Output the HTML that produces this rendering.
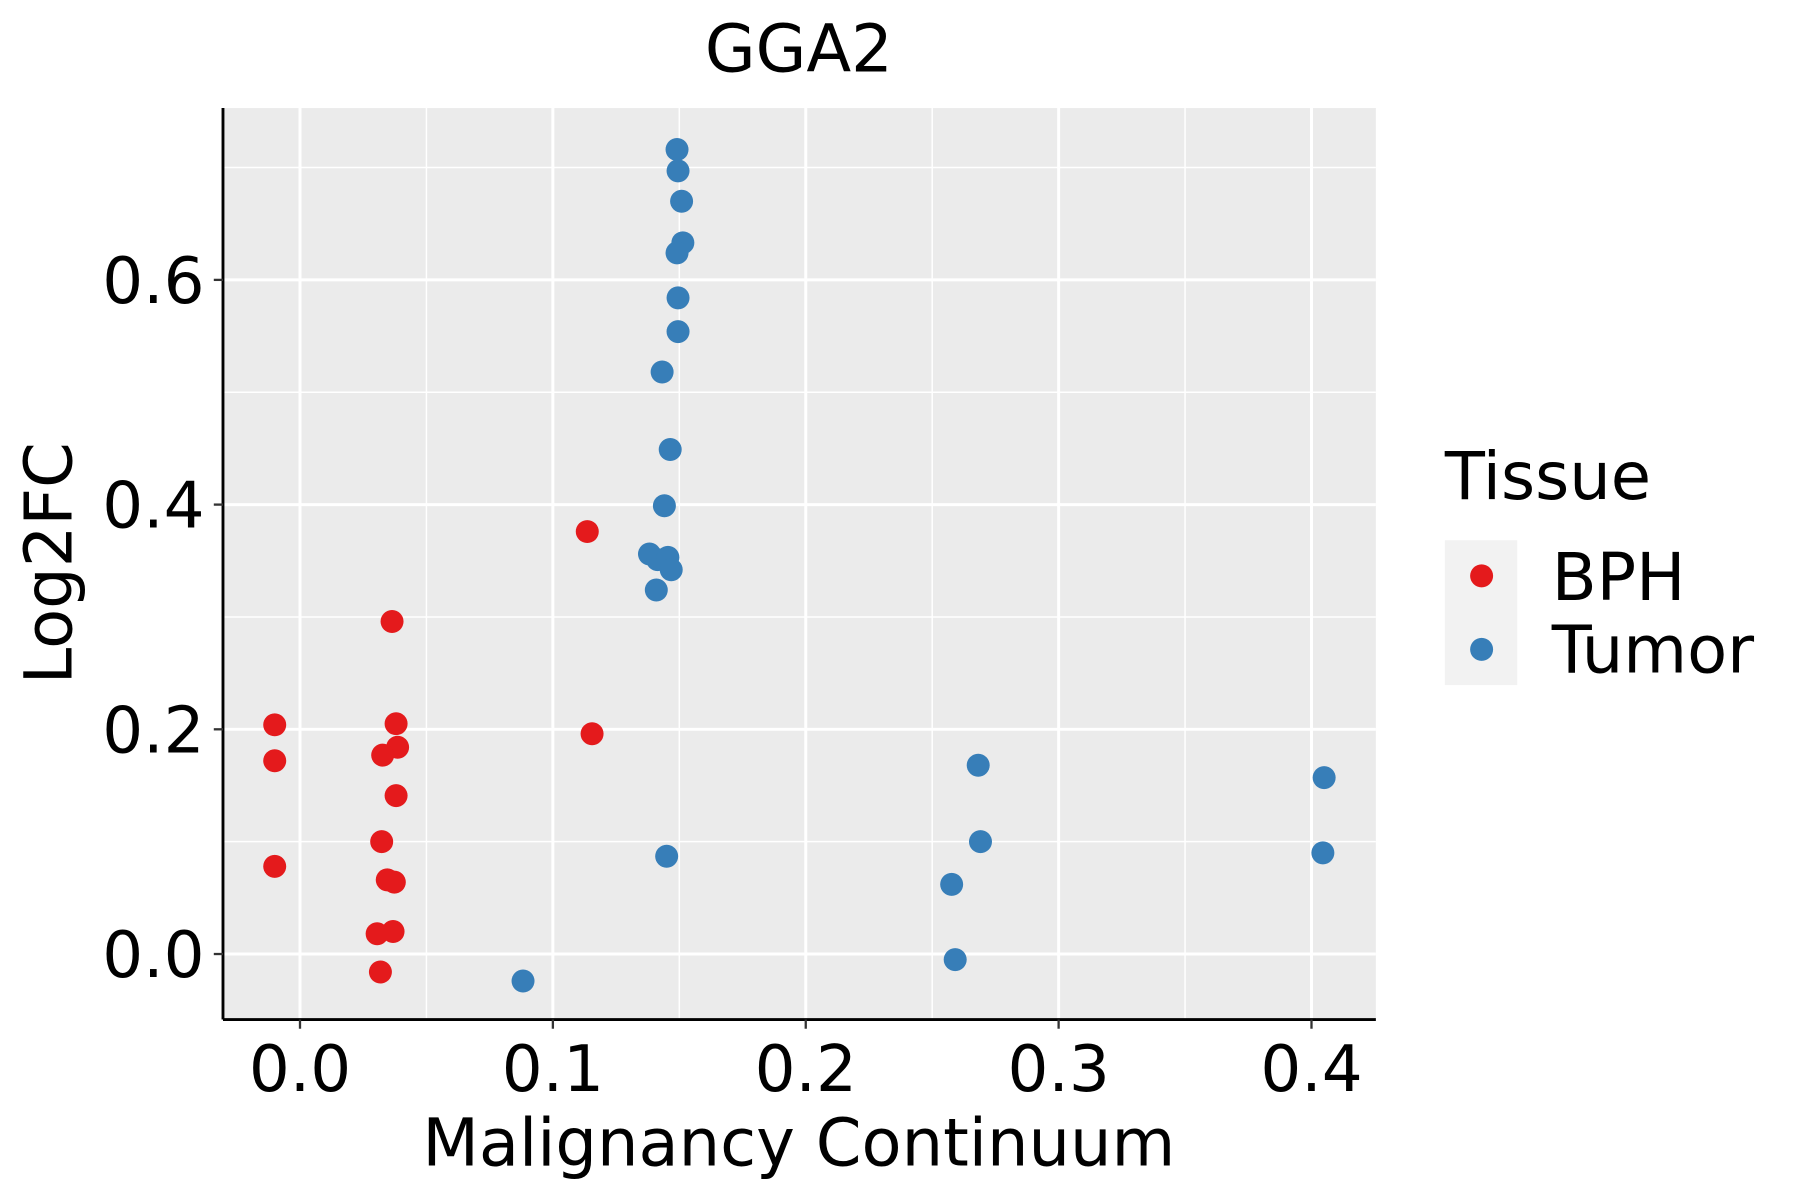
<!DOCTYPE html>
<html><head><meta charset="utf-8"><style>html,body{margin:0;padding:0;background:#fff}svg{display:block}text{font-family:"DejaVu Sans","Liberation Sans",sans-serif}</style></head>
<body>
<svg id="chart" width="1800" height="1200" viewBox="0 0 1566 1044" preserveAspectRatio="none" xmlns="http://www.w3.org/2000/svg">
<rect width="1566" height="1044" fill="#fff"/>
<text x="695" y="62" font-size="57" text-anchor="middle" fill="#000">GGA2</text>
<rect x="194" y="94" width="1003" height="793" fill="#ebebeb"/>
<g id="grid"></g>
<g id="pts"></g>
<line x1="194" y1="887" x2="1197" y2="887" stroke="#000" stroke-width="2.5"/>
<line x1="194" y1="94" x2="194" y2="887" stroke="#000" stroke-width="2.5"/>
<g id="ticks"></g>
<text x="695" y="1014" font-size="57" text-anchor="middle" fill="#000">Malignancy Continuum</text>
<text transform="translate(62,490) rotate(-90)" font-size="57" text-anchor="middle" fill="#000">Log2FC</text>
<g>
<text x="1257" y="434" font-size="57" fill="#000">Tissue</text>
<rect x="1257" y="470" width="63" height="126" fill="#f2f2f2"/>
<circle cx="1289" cy="501" r="10" fill="#e41a1c"/>
<circle cx="1289" cy="565" r="10" fill="#377eb8"/>
<text x="1350" y="522" font-size="57" fill="#000">BPH</text>
<text x="1350" y="585" font-size="57" fill="#000">Tumor</text>
</g>
</svg>
<script>
const xTicks=[0,0.1,0.2,0.3,0.4];
const xTickLabels=["0.0","0.1","0.2","0.3","0.4"];
const yTicks=[0,0.2,0.4,0.6];
const yTickLabels=["0.0","0.2","0.4","0.6"];
const bphX=[-0.010,-0.010,-0.010,0.0364,0.0380,0.0386,0.0327,0.0380,0.0323,0.0345,0.0373,0.0305,0.0368,0.0318,0.1136,0.1155];
const bphY=[0.204,0.172,0.078,0.296,0.205,0.184,0.177,0.141,0.100,0.066,0.064,0.018,0.020,-0.016,0.376,0.196];
const tumorX=[0.1491,0.1495,0.1509,0.1514,0.1491,0.1495,0.1495,0.1432,0.1464,0.1441,0.1382,0.1414,0.1455,0.1468,0.1409,0.1450,0.0882,0.2682,0.2691,0.2577,0.2591,0.4050,0.4045];
const tumorY=[0.716,0.697,0.670,0.633,0.624,0.584,0.554,0.518,0.449,0.399,0.356,0.351,0.353,0.342,0.324,0.087,-0.024,0.168,0.100,0.062,-0.005,0.157,0.090];
const NS="http://www.w3.org/2000/svg";
const X0=261,XS=2200,Y0=830,YS=977.5,L=194,R=1197,T=94,B=887;
const sx=v=>X0+v*XS, sy=v=>Y0-v*YS;
function mk(t,a,p){const e=document.createElementNS(NS,t);for(const k in a)e.setAttribute(k,a[k]);p.appendChild(e);return e;}
const grid=document.getElementById('grid'),ticks=document.getElementById('ticks'),pts=document.getElementById('pts');
for(let i=0;i<xTicks.length;i++){const v=xTicks[i];
 const g=mk('line',{x1:sx(v),x2:sx(v),y1:T,y2:B,stroke:'#fff','stroke-width':2.6},grid);
 
 
 const m=mk('line',{x1:sx(v+0.05),x2:sx(v+0.05),y1:T,y2:B,stroke:'#fff','stroke-width':1.3},grid);
 
 
 mk('line',{x1:sx(v),x2:sx(v),y1:B,y2:B+8,stroke:'#333','stroke-width':2},ticks);
 const t=mk('text',{x:sx(v),y:949,'font-size':56,'text-anchor':'middle',fill:'#000'},ticks);t.textContent=xTickLabels[i];
 
 
}
for(let i=0;i<yTicks.length;i++){const v=yTicks[i];
 const g=mk('line',{x1:L,x2:R,y1:sy(v),y2:sy(v),stroke:'#fff','stroke-width':2.6},grid);
 
 
 const m=mk('line',{x1:L,x2:R,y1:sy(v+0.1),y2:sy(v+0.1),stroke:'#fff','stroke-width':1.3},grid);
 
 
 mk('line',{x1:L-8,x2:L,y1:sy(v),y2:sy(v),stroke:'#333','stroke-width':2},ticks);
 const t=mk('text',{x:L-16,y:sy(v)+20,'font-size':56,'text-anchor':'end',fill:'#000'},ticks);t.textContent=yTickLabels[i];
 
 
}
for(let i=0;i<bphX.length;i++){const c=mk('circle',{cx:sx(bphX[i]),cy:sy(bphY[i]),r:10,fill:'#e41a1c'},pts);
 
 }
for(let i=0;i<tumorX.length;i++){const c=mk('circle',{cx:sx(tumorX[i]),cy:sy(tumorY[i]),r:10,fill:'#377eb8'},pts);
 
 }
</script>
</body></html>
